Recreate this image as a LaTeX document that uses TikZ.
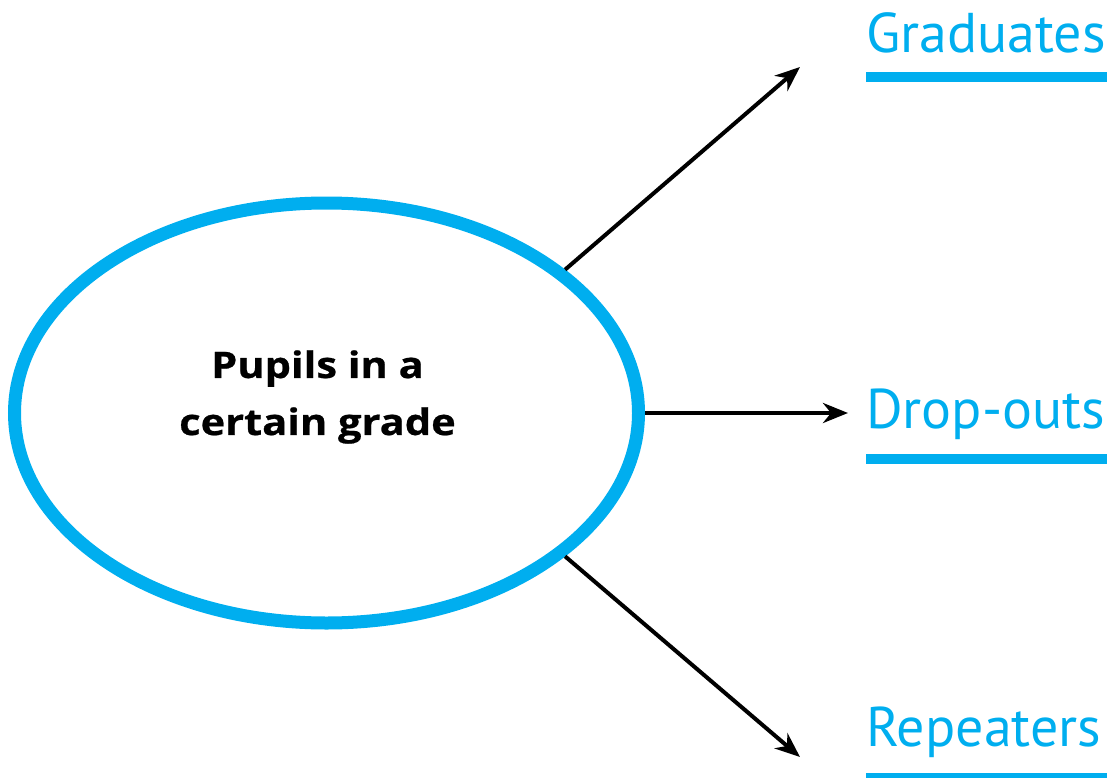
\documentclass[tikz,border=0pt]{standalone}
\usepackage{fontspec}
\setmainfont{PT Sans}
\newfontfamily\boldfam[FakeBold=0.6]{Open Sans}
\usetikzlibrary{shapes.geometric,arrows.meta}
\definecolor{cyanblue}{HTML}{00AEEF}
\begin{document}
\begin{tikzpicture}[x=1pt,y=-1pt,
  bigell/.style={draw=cyanblue,line width=13pt,ellipse,minimum width=624pt,minimum height=420pt,inner sep=0pt},
  inlabel/.style={align=center,inner sep=0pt,xscale=1.14,transform shape,font=\boldfam\fontsize{36.5}{57}\selectfont\bfseries},
  outlabel/.style={anchor=base west,inner sep=0pt,text=cyanblue,font=\fontsize{56}{60}\selectfont},
  uline/.style={draw=none,fill=cyanblue},
  arr/.style={line width=4pt,-{Stealth[length=25pt,width=20pt,inset=8pt]}}]
\useasboundingbox (0,0) rectangle (1107,778);
\node[bigell] (ell) at (326.5,413) {};
\node[inlabel] (txt) at (317.5,397) {Pupils in a\\certain grade};
\node[outlabel] (grad) at (866,53) {Graduates};
\node[outlabel] (drop) at (866,428) {Drop-outs};
\node[outlabel] (rep) at (866,746) {Repeaters};
\fill[uline] (866,72) rectangle (1107,82);
\fill[uline] (866,454) rectangle (1107,464);
\fill[uline] (866,773) rectangle (1107,783);
\coordinate (tg) at (800,67);
\coordinate (td) at (848,413);
\coordinate (tr) at (800,757);
\draw[arr] (ell.31) -- (tg);
\draw[arr] (ell.0) -- (td);
\draw[arr] (ell.-31) -- (tr);
\end{tikzpicture}
\end{document}
